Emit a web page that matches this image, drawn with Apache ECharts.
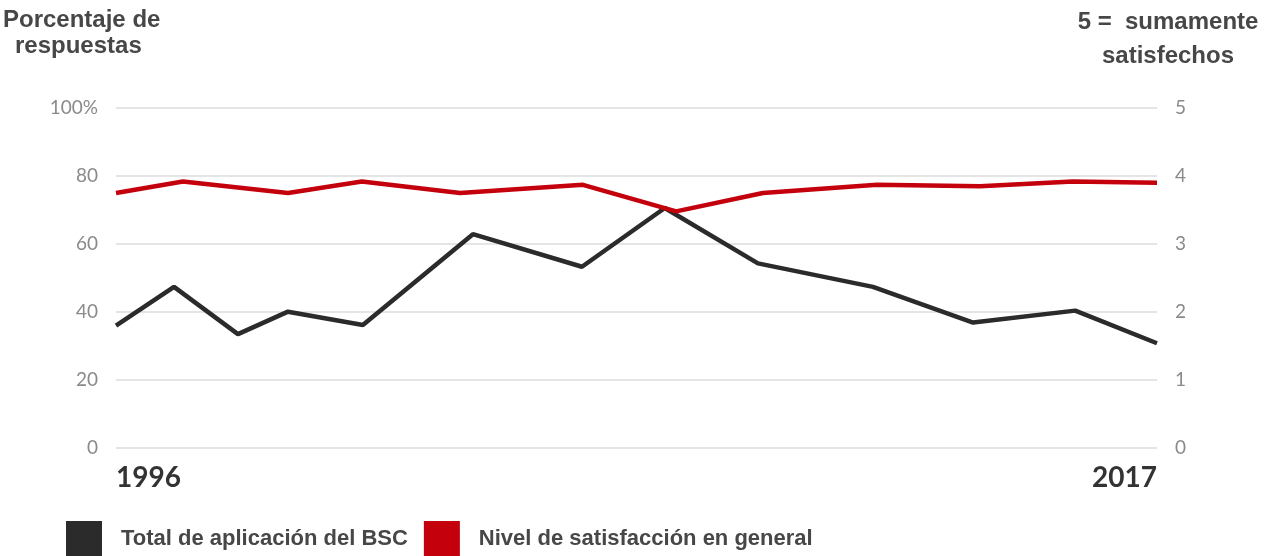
<!DOCTYPE html>
<html>
<head>
<meta charset="utf-8">
<script src="https://cdn.jsdelivr.net/npm/echarts@6/dist/echarts.min.js"></script>
<style>
html,body{margin:0;padding:0;background:#fff;}
#chart{width:1269px;height:556px;}
</style>
</head>
<body>
<div id="chart"></div>
<script>
// Estimated x positions (in years) and values
const bscYears = [1996, 1997.17, 1998.46, 1999.47, 2000.98, 2003.2, 2005.4, 2007.07, 2008.95, 2011.27, 2013.29, 2015.35, 2017];
const bscValues = [36, 47.4, 33.5, 40.1, 36.2, 62.9, 53.3, 70.6, 54.3, 47.4, 36.9, 40.4, 30.8];
const satYears = [1996, 1997.35, 1999.47, 2000.96, 2002.94, 2005.42, 2007.3, 2009.05, 2011.35, 2013.43, 2015.3, 2017];
const satValues = [3.75, 3.92, 3.75, 3.92, 3.75, 3.87, 3.48, 3.75, 3.87, 3.85, 3.92, 3.9];
const leftTicks = [0, 20, 40, 60, 80, 100];
const rightTicks = [0, 1, 2, 3, 4, 5];
const seriesNames = ['Total de aplicación del BSC', 'Nivel de satisfacción en general'];
const leftTitle = ['Porcentaje de', 'respuestas'];
const rightTitle = ['5 =  sumamente', 'satisfechos'];

const chart = echarts.init(document.getElementById('chart'));
const tickFont = {color: '#8a8a8a', fontSize: 19, fontFamily: 'Lato'};
const titleFont = {fill: '#474747', font: 'bold 24px "Liberation Sans", Arial, sans-serif', verticalAlign: 'middle'};

chart.setOption({
  animation: false,
  backgroundColor: '#fff',
  grid: {left: 116, right: 112, top: 108, bottom: 108},
  xAxis: {
    type: 'value', min: 1996, max: 2017, interval: 21,
    axisLine: {show: false}, axisTick: {show: false}, splitLine: {show: false},
    axisLabel: {
      margin: 16, color: '#333', fontSize: 28, fontWeight: 'bold', fontFamily: 'Lato',
      alignMinLabel: 'left', alignMaxLabel: 'right',
      formatter: v => String(v)
    }
  },
  yAxis: [
    {
      type: 'value', min: leftTicks[0], max: leftTicks[leftTicks.length - 1], interval: 20,
      axisLine: {show: false}, axisTick: {show: false},
      splitLine: {lineStyle: {color: '#dcdcdc', width: 1.5}},
      axisLabel: Object.assign({margin: 18, formatter: v => v === 100 ? '100%' : String(v)}, tickFont)
    },
    {
      type: 'value', min: rightTicks[0], max: rightTicks[rightTicks.length - 1], interval: 1,
      axisLine: {show: false}, axisTick: {show: false}, splitLine: {show: false},
      axisLabel: Object.assign({margin: 18}, tickFont)
    }
  ],
  legend: {
    left: 66, top: 521, padding: 0, itemWidth: 36, itemHeight: 36, itemGap: 16,
    icon: 'rect',
    textStyle: {color: '#474747', fontSize: 22, fontWeight: 'bold', fontFamily: '"Liberation Sans", Arial', padding: [0, 0, 0, 14]},
    data: seriesNames
  },
  series: [
    {
      name: seriesNames[0], type: 'line', yAxisIndex: 0, symbol: 'none',
      color: '#2b2b2b',
      lineStyle: {color: '#2b2b2b', width: 4.5},
      data: bscYears.map((x, i) => [x, bscValues[i]])
    },
    {
      name: seriesNames[1], type: 'line', yAxisIndex: 1, symbol: 'none',
      color: '#c3000c',
      lineStyle: {color: '#c3000c', width: 4.5},
      data: satYears.map((x, i) => [x, satValues[i]])
    }
  ],
  graphic: [
    {type: 'text', x: 3, y: 20, style: Object.assign({text: leftTitle[0], align: 'left'}, titleFont)},
    {type: 'text', x: 15, y: 46, style: Object.assign({text: leftTitle[1], align: 'left'}, titleFont)},
    {type: 'text', x: 1168, y: 22, style: Object.assign({text: rightTitle[0], align: 'center'}, titleFont)},
    {type: 'text', x: 1168, y: 56, style: Object.assign({text: rightTitle[1], align: 'center'}, titleFont)}
  ]
});
</script>
</body>
</html>
